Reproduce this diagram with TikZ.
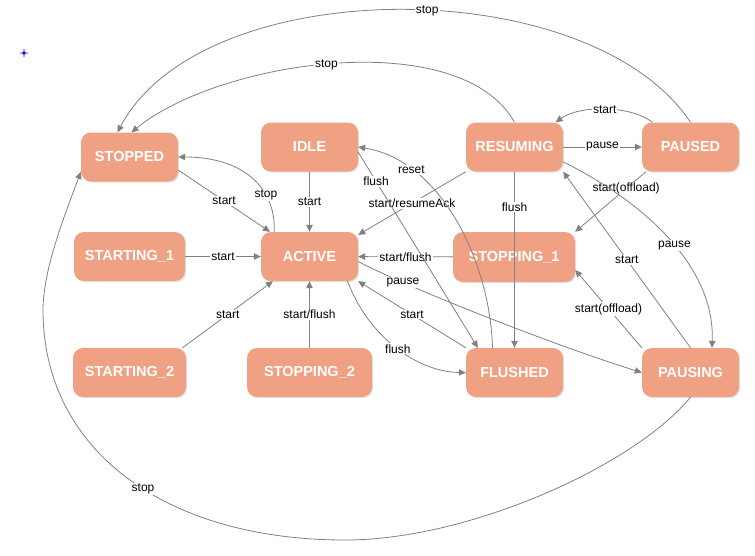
\documentclass[tikz,border=0pt]{standalone}
\usepackage{fontspec}
\setmainfont{Liberation Sans}
\usetikzlibrary{arrows.meta,shadows}
\definecolor{statefill}{RGB}{240,161,131}
\definecolor{edgegray}{RGB}{128,128,128}
\definecolor{markblue}{RGB}{20,20,230}
\begin{document}
\begin{tikzpicture}[x=1pt,y=-1pt,
  state/.style={rectangle, rounded corners=10pt, fill=statefill, text=white,
    font=\fontsize{14.5}{17}\selectfont\bfseries, minimum width=97pt,
    minimum height=49pt, inner sep=0pt,
    drop shadow={shadow xshift=1.2pt, shadow yshift=-1.2pt, opacity=0.22}},
  edge/.style={draw=edgegray, line width=0.8pt, -{Triangle[length=7pt,width=6.5pt]}},
  lbl/.style={fill=white, inner sep=1pt, text=black, font=\fontsize{12}{14}\selectfont}]
\useasboundingbox (0,0) rectangle (755,555);

% small blue origin marker
\coordinate (mark) at (24,53);
\draw[markblue, line width=0.6pt] (mark) circle (1.6)
  ([xshift=-4pt]mark) -- ([xshift=4pt]mark)
  ([yshift=-4pt]mark) -- ([yshift=4pt]mark);

% states
\node[state] (stopped)   at (129.5,157)   {STOPPED};
\node[state] (idle)      at (309.5,147)   {IDLE};
\node[state] (resuming)  at (514.5,147)   {RESUMING};
\node[state] (paused)    at (690.5,147)   {PAUSED};
\node[state, minimum width=111pt] (starting1) at (129.5,256.5) {STARTING\_1};
\node[state] (active)    at (309.5,256.5) {ACTIVE};
\node[state, minimum width=122pt, minimum height=50pt] (stopping1) at (514,257) {STOPPING\_1};
\node[state, minimum width=113pt] (starting2) at (129.5,372.5) {STARTING\_2};
\node[state, minimum width=125pt] (stopping2) at (309.5,372.5) {STOPPING\_2};
\node[state] (flushed)   at (514.5,372.5) {FLUSHED};
\node[state] (pausing)   at (690.5,372.5) {PAUSING};

% transitions
\draw[edge] (stopped.-15) -- node[lbl]{start} (active.148);
\draw[edge] (active.145) .. controls (276,185) and (240,157) .. (stopped.east)
  node[lbl,pos=0.3]{stop};
\draw[edge] (idle) -- node[lbl]{start} (active);
\draw[edge] (starting1) -- node[lbl]{start} (active);
\draw[edge] (starting2.25) -- node[lbl]{start} (active.214);
\draw[edge] (stopping2) -- node[lbl]{start/flush} (active);
\draw[edge] (resuming.south west) -- node[lbl]{start/resumeAck} (active.24);
\draw[edge] (stopping1) -- node[lbl]{start/flush} (active);
\draw[edge] (flushed.north west) -- node[lbl]{start} (active.south east);
\draw[edge] (active.-33) .. controls (370,340) and (420,372) .. (flushed.west)
  node[lbl,pos=0.5]{flush};
\draw[edge] (active.-6) .. controls (418,292) and (562,348) .. (pausing.west)
  node[lbl,pos=0.2]{pause};
\draw[edge] ([xshift=-22pt]flushed.north) .. controls (490,260) and (440,160) .. (idle.east)
  node[lbl,pos=0.76]{reset};
\draw[edge] (idle.-6) -- node[lbl,pos=0.15]{flush} (flushed.146);
\draw[edge] (resuming) -- node[lbl,pos=0.2]{flush} (flushed);
\draw[edge] (resuming) -- node[lbl]{pause} (paused);
\draw[edge] (paused.147) .. controls (630,105) and (580,105) .. (resuming.31)
  node[lbl,pos=0.5]{start};
\draw[edge] (paused.209) -- node[lbl,pos=0.28]{start(offload)} (stopping1.north east);
\draw[edge] (resuming.-17) .. controls (650,205) and (715,270) .. (pausing.49)
  node[lbl,pos=0.52]{pause};
\draw[edge] (pausing.north) -- node[lbl,pos=0.5]{start} (resuming.south east);
\draw[edge] (pausing.north west) -- node[lbl,pos=0.5]{start(offload)} (stopping1.-12);
\draw[edge] (resuming.north) .. controls (460,25) and (220,60) .. ([xshift=2pt]stopped.north)
  node[lbl,pos=0.52]{stop};
\draw[edge] (paused.north) .. controls (590,-29) and (203,-29) .. ([xshift=-12pt]stopped.north)
  node[lbl,pos=0.46]{stop};
% long loop under the whole chart, back up the left side
\draw[edge] (pausing.south) .. controls (635,465) and (470,540) .. (345,540)
  .. controls (165,540) and (43,450) .. (43,310) node[lbl,pos=0.45]{stop}
  .. controls (43,270) and (64.6,215.3) .. (stopped.197);
\end{tikzpicture}
\end{document}
